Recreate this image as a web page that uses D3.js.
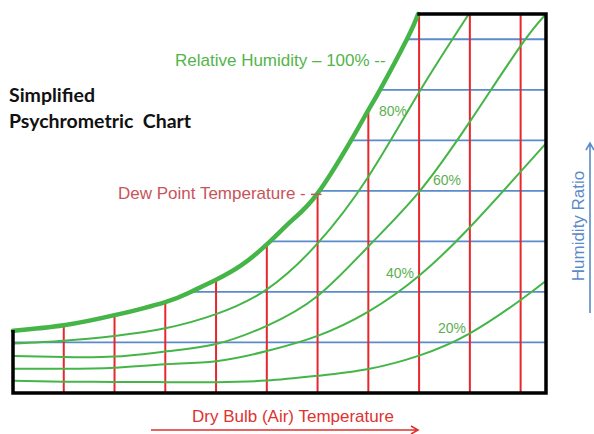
<!DOCTYPE html>
<html>
<head>
<meta charset="utf-8">
<script src="https://cdn.jsdelivr.net/npm/d3@7"></script>
<style>
  body { margin: 0; background: #fff; }
  svg { display: block; }
</style>
</head>
<body>
<div id="chart"></div>
<script>

// dry bulb grid (red verticals) and humidity ratio grid (blue horizontals), in grid units
const dryBulbTicks = [1, 2, 3, 4, 5, 6, 7, 8, 9, 10];
const ratioTicks = [1, 2, 3, 4, 5, 6, 7];

// saturation curve (100% RH)
const satX = [0, 1, 2, 3, 3.5, 4, 4.5, 5, 5.5, 6, 6.66, 7, 7.23, 7.76, 7.98];
const satW = [1.23, 1.34, 1.54, 1.80, 2.0, 2.24, 2.53, 2.94, 3.42, 3.95, 5.0, 5.6, 6.0, 7.0, 7.5];

// other relative humidity curves
const rh80X = [0, 1, 2, 3, 4, 5, 6, 7, 8, 8.98];
const rh80W = [0.98, 1.035, 1.13, 1.28, 1.56, 2.05, 2.96, 4.28, 5.95, 7.5];
const rhX = [0, 1, 2, 3, 4, 5, 6, 7, 8, 9, 10, 10.5];
const rh60W = [0.73, 0.71, 0.72, 0.82, 0.97, 1.33, 1.92, 2.9, 3.98, 5.37, 6.87, 7.5];
const rh40W = [0.48, 0.48, 0.5, 0.57, 0.63, 0.83, 1.13, 1.61, 2.32, 3.28, 4.38, 4.94];
const rh20W = [0.24, 0.225, 0.22, 0.215, 0.215, 0.245, 0.34, 0.475, 0.74, 1.18, 1.84, 2.22];

const rhLabels = ["80%", "60%", "40%", "20%"];

const width = 594, height = 434;

const svg = d3.select("#chart").append("svg")
    .attr("width", width)
    .attr("height", height);

const x = d3.scaleLinear().domain([0, 10.5]).range([13, 546]);
const y = d3.scaleLinear().domain([0, 7.5]).range([393, 14]);

// helpers to follow the saturation curve
const satAt = d3.scaleLinear().domain(satX).range(satW).clamp(true);
const satInv = d3.scaleLinear().domain(satW).range(satX).clamp(true);

const green = "#45b548";
const red = "#e8262b";
const blue = "#5b8bc9";

svg.append("defs").append("clipPath")
    .attr("id", "box")
    .append("rect")
    .attr("x", x(0)).attr("y", y(7.5))
    .attr("width", x(10.5) - x(0))
    .attr("height", y(0) - y(7.5));

// blue humidity ratio lines
svg.append("g").selectAll("line")
    .data(ratioTicks)
    .enter()
    .append("line")
    .attr("x1", d => x(satInv(d)))
    .attr("x2", x(10.5))
    .attr("y1", d => y(d))
    .attr("y2", d => y(d))
    .attr("stroke", blue)
    .attr("stroke-width", 1.8);

// red dry bulb lines
svg.append("g").selectAll("line")
    .data(dryBulbTicks)
    .enter()
    .append("line")
    .attr("x1", d => x(d))
    .attr("x2", d => x(d))
    .attr("y1", y(0))
    .attr("y2", d => y(Math.min(satAt(d), 7.5)))
    .attr("stroke", red)
    .attr("stroke-width", 2);

const line = d3.line()
    .x(d => x(d[0]))
    .y(d => y(d[1]))
    .curve(d3.curveNatural);

const curves = [
    d3.zip(rh80X, rh80W),
    d3.zip(rhX, rh60W),
    d3.zip(rhX, rh40W),
    d3.zip(rhX, rh20W)
];

svg.append("g")
    .attr("clip-path", "url(#box)")
    .selectAll("path")
    .data(curves)
    .enter()
    .append("path")
    .attr("d", line)
    .attr("fill", "none")
    .attr("stroke", green)
    .attr("stroke-width", 2);

// saturation curve
svg.append("path")
    .attr("d", line(d3.zip(satX, satW)))
    .attr("fill", "none")
    .attr("stroke", green)
    .attr("stroke-width", 4.5)
    .attr("stroke-linecap", "round");

// outline box
svg.append("path")
    .attr("d", `M${x(0)},${y(satW[0]) + 1} L${x(0)},${y(0)} L${x(10.5)},${y(0)} L${x(10.5)},${y(7.5)} L${x(satX[satX.length - 1]) + 1},${y(7.5)}`)
    .attr("fill", "none")
    .attr("stroke", "#000")
    .attr("stroke-width", 3.5)
    .attr("stroke-linecap", "square");

// title
const title = svg.append("text")
    .attr("font-family", "Lato, 'Open Sans', sans-serif")
    .attr("font-weight", "bold")
    .attr("font-size", 19.5)
    .attr("fill", "#111")
    .style("white-space", "pre");
title.append("tspan").attr("x", 9).attr("y", 102).text("Simplified");
title.append("tspan").attr("x", 9).attr("y", 128).text("Psychrometric  Chart");

const label = (txt, px, py, col, size) => svg.append("text")
    .attr("x", px).attr("y", py)
    .attr("font-family", "'Liberation Sans', Arial, sans-serif")
    .attr("font-size", size)
    .attr("fill", col)
    .text(txt);

label("Relative Humidity \u2013 100% --", 175, 66, "#52b54a", 17);
label("Dew Point Temperature -", 118, 199, "#c9545a", 17);
svg.append("line")
    .attr("x1", 311).attr("x2", x(6) + 4)
    .attr("y1", y(satAt(6)) + 1).attr("y2", y(satAt(6)) + 1)
    .attr("stroke", "#c9545a").attr("stroke-width", 1.5);

// RH labels
const rhPos = [[379, 116], [433, 185], [386, 278], [438, 333]];
rhLabels.forEach((t, i) => label(t, rhPos[i][0], rhPos[i][1], "#5cb04f", 14));

// axis labels with arrows
label("Dry Bulb (Air) Temperature", 192, 422, "#e0322f", 17);
svg.append("path")
    .attr("d", "M151,430 L418,430 M411,426 L418,430 L411,434")
    .attr("fill", "none")
    .attr("stroke", "#e0322f")
    .attr("stroke-width", 1.6);

svg.append("text")
    .attr("transform", "translate(584,226) rotate(-90)")
    .attr("text-anchor", "middle")
    .attr("font-family", "'Liberation Sans', Arial, sans-serif")
    .attr("font-size", 17)
    .attr("fill", blue)
    .text("Humidity Ratio");
svg.append("path")
    .attr("d", "M590,313 L590,143 M586,150 L590,143 L594,150")
    .attr("fill", "none")
    .attr("stroke", blue)
    .attr("stroke-width", 1.6);

</script>
</body>
</html>
